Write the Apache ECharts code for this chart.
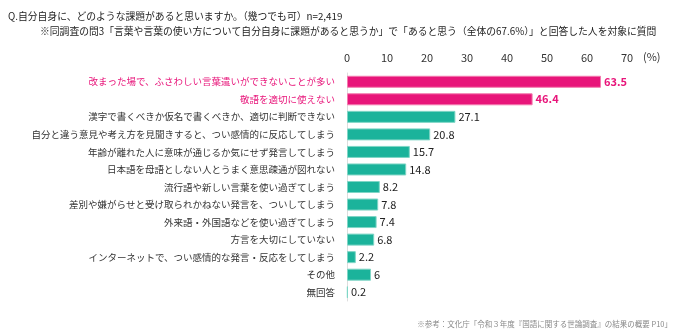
<!DOCTYPE html>
<html><head><meta charset="utf-8">
<script src="https://cdn.jsdelivr.net/npm/echarts@6/dist/echarts.min.js"></script>
<style>html,body{margin:0;padding:0;background:#fff}#c{width:680px;height:336px}</style>
</head><body><div id="c"></div>
<script>
const categories = [
  "改まった場で、ふさわしい言葉遣いができないことが多い",
  "敬語を適切に使えない",
  "漢字で書くべきか仮名で書くべきか、適切に判断できない",
  "自分と違う意見や考え方を見聞きすると、つい感情的に反応してしまう",
  "年齢が離れた人に意味が通じるか気にせず発言してしまう",
  "日本語を母語としない人とうまく意思疎通が図れない",
  "流行語や新しい言葉を使い過ぎてしまう",
  "差別や嫌がらせと受け取られかねない発言を、ついしてしまう",
  "外来語・外国語などを使い過ぎてしまう",
  "方言を大切にしていない",
  "インターネットで、つい感情的な発言・反応をしてしまう",
  "その他",
  "無回答"
];
const values = [63.5, 46.4, 27.1, 20.8, 15.7, 14.8, 8.2, 7.8, 7.4, 6.8, 2.2, 6, 0.2];
const highlighted = [true, true, false, false, false, false, false, false, false, false, false, false, false];
const xTicks = [0, 10, 20, 30, 40, 50, 60, 70];
const unitLabel = "(%)";
const titleLine1 = "Q.自分自身に、どのような課題があると思いますか。（幾つでも可）n=2,419";
const titleLine2 = "※同調査の問3「言葉や言葉の使い方について自分自身に課題があると思うか」で「あると思う（全体の67.6%）」と回答した人を対象に質問";
const sourceNote = "※参考：文化庁「令和３年度『国語に関する世論調査』の結果の概要 P10」";

const PINK = "#E8157A", TEAL = "#1BB39B";
const FONT = "'Noto Sans CJK JP', 'Noto Sans', sans-serif";

const chart = echarts.init(document.getElementById('c'), null, {renderer: 'canvas'});
chart.setOption({
  animation: false,
  textStyle: {fontFamily: FONT},
  graphic: [
    {type: 'text', left: 8, top: 11, style: {text: titleLine1, font: "9.8px " + FONT, fill: '#222'}},
    {type: 'text', left: 40, top: 26, style: {text: titleLine2, font: "9.8px " + FONT, fill: '#222'}},
    {type: 'text', left: 643, top: 51, style: {text: unitLabel, font: "11px " + FONT, fill: '#333'}},
    {type: 'text', right: 8, top: 320, style: {text: sourceNote, font: "7.5px " + FONT, fill: '#888'}}
  ],
  grid: {left: 347, top: 73, width: 280, height: 228, containLabel: false},
  xAxis: {
    type: 'value', position: 'top', min: 0, max: 70, interval: 10,
    axisLine: {show: false}, axisTick: {show: false}, splitLine: {show: false},
    axisLabel: {color: '#333', fontSize: 11, margin: 10,
      formatter: v => xTicks.includes(v) ? String(v) : ''}
  },
  yAxis: {
    type: 'category', inverse: true, data: categories,
    axisLine: {show: true, lineStyle: {color: '#ddd', width: 1}},
    axisTick: {show: false},
    axisLabel: {
      fontSize: 9.5, margin: 12,
      color: (v, i) => highlighted[i] ? PINK : '#333'
    }
  },
  series: [{
    type: 'bar', barWidth: 12,
    data: values.map((v, i) => ({
      value: v,
      itemStyle: {
        color: highlighted[i] ? PINK : TEAL,
        borderColor: highlighted[i] ? '#F47AAE' : '#7FD6C6', borderWidth: 1
      },
      label: {
        show: true, position: 'right', distance: 3,
        fontSize: 11, color: highlighted[i] ? PINK : '#222',
        fontWeight: highlighted[i] ? 'bold' : 'normal'
      }
    }))
  }]
});
</script></body></html>
